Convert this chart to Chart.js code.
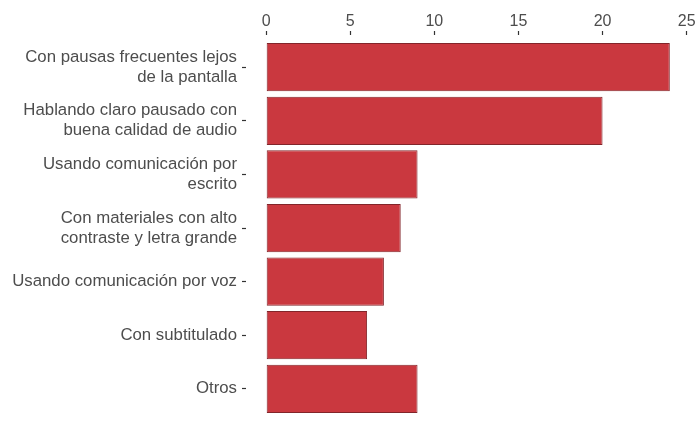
<!DOCTYPE html>
<html>
<head>
<meta charset="utf-8">
<script src="https://cdn.jsdelivr.net/npm/chart.js@4/dist/chart.umd.min.js"></script>
<style>
  html, body { margin: 0; padding: 0; background: #fff; }
  #wrap { width: 700px; height: 432px; position: relative; }
</style>
</head>
<body>
<div id="wrap"><canvas id="chart"></canvas></div>
<script>
const categories = [
  ['Con pausas frecuentes lejos', 'de la pantalla'],
  ['Hablando claro pausado con', 'buena calidad de audio'],
  ['Usando comunicación por', 'escrito'],
  ['Con materiales con alto', 'contraste y letra grande'],
  'Usando comunicación por voz',
  'Con subtitulado',
  'Otros'
]
const counts = [24, 20, 9, 8, 7, 6, 9]
const xTicks = [0, 5, 10, 15, 20, 25]

const textColor = '#4d4d4d'
const tickColor = '#333333'
const fontFamily = "'Liberation Sans', Arial, sans-serif"

const points = counts.map((v, i) => ({ x: v, y: i }))

new Chart(document.getElementById('chart'), {
  type: 'bar',
  data: {
    datasets: [{
      data: points,
      backgroundColor: '#ca383f',
      borderColor: '#82252a',
      borderWidth: 1,
      borderSkipped: false,
      barPercentage: 0.9,
      categoryPercentage: 1
    }]
  },
  options: {
    indexAxis: 'y',
    responsive: true,
    maintainAspectRatio: false,
    animation: false,
    layout: { padding: { top: 0, right: 10, bottom: 11, left: 0 } },
    plugins: {
      legend: { display: false },
      tooltip: { enabled: false }
    },
    scales: {
      x: {
        type: 'linear',
        position: 'top',
        min: -1.2,
        max: 25.2,
        afterBuildTicks: s => { s.ticks = xTicks.map(v => ({ value: v })) },
        afterFit: s => { s.height = 35 },
        border: { display: false },
        grid: { drawOnChartArea: false, tickLength: 4, tickColor: tickColor, tickWidth: 1.2 },
        ticks: { color: textColor, font: { family: fontFamily, size: 16 }, padding: 0, maxRotation: 0 }
      },
      y: {
        type: 'linear',
        reverse: true,
        offset: false,
        min: -0.6,
        max: 6.6,
        afterBuildTicks: s => { s.ticks = categories.map((c, i) => ({ value: i })) },
        afterFit: s => {
          s.width = 246
          // labels sit well inside the panel, no extra room needed
          s.paddingTop = 0
          s.paddingBottom = 0
        },
        border: { display: false },
        grid: { offset: false, drawOnChartArea: false, tickLength: 4, tickColor: tickColor, tickWidth: 1.2 },
        ticks: {
          color: textColor,
          font: { family: fontFamily, size: 16.8, lineHeight: 1.2 },
          padding: 5,
          callback: v => categories[v]
        }
      }
    }
  }
})
</script>
</body>
</html>
